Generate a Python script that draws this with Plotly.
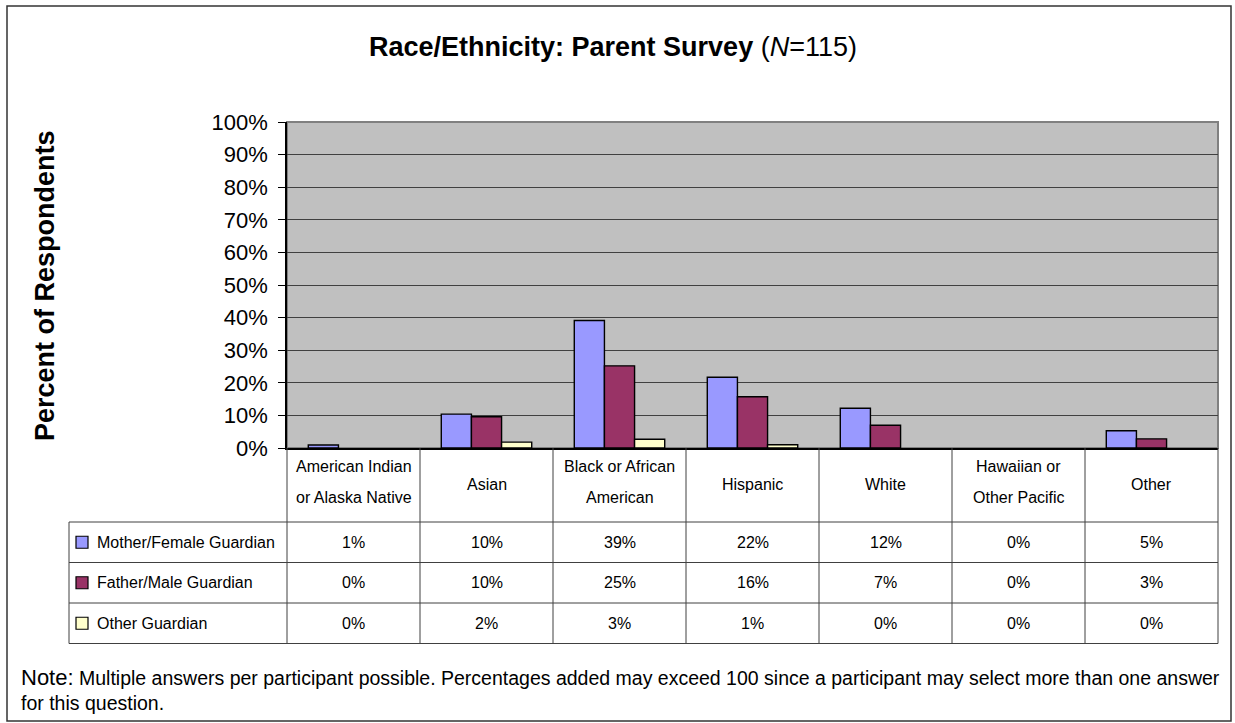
import plotly.graph_objects as go

# ---------------- data ----------------
categories = ["American Indian or Alaska Native", "Asian", "Black or African American",
              "Hispanic", "White", "Hawaiian or Other Pacific", "Other"]
category_lines = [["American Indian", "or Alaska Native"], ["Asian"],
                  ["Black or African", "American"], ["Hispanic"], ["White"],
                  ["Hawaiian or", "Other Pacific"], ["Other"]]
series_names = ["Mother/Female Guardian", "Father/Male Guardian", "Other Guardian"]
mother = [0.9, 10.4, 39.1, 21.7, 12.2, 0.0, 5.3]
father = [0.0, 9.6, 25.2, 15.7, 7.0, 0.0, 2.8]
other = [0.0, 1.8, 2.7, 1.0, 0.0, 0.0, 0.0]
series_values = [mother, father, other]
series_colors = ["#9999FF", "#993366", "#FFFFCC"]
y_ticks = list(range(0, 101, 10))
y_tick_labels = [f"{t}%" for t in y_ticks]

title_html = "<b>Race/Ethnicity: Parent Survey</b> (<i>N</i>=115)"
y_title = "Percent of Respondents"
note_lines = ["<span style='font-size:22px'>Note:</span> Multiple answers per participant possible. "
              "Percentages added may exceed 100 since a participant may select more than one answer",
              "for this question."]

# ---------------- layout geometry (pixels) ----------------
W, H = 1235, 723
PL, PR, PT, PB = 287, 1218, 122, 448      # plot area
TL = 69                                    # table left edge
HDR_B = 522                                # bottom of header row
ROW_H = 40.5
FONT = "Liberation Sans, Arial, sans-serif"


def px(x):
    return x / W


def py(y):
    return 1 - y / H


fig = go.Figure()
for name, vals, col in zip(series_names, series_values, series_colors):
    fig.add_trace(go.Bar(x=categories, y=vals, name=name,
                         marker=dict(color=col,
                                     line=dict(color="black",
                                               width=[1.4 if v > 0 else 0 for v in vals]))))

shapes = []
annotations = []

# plot border (gray)
shapes.append(dict(type="rect", xref="paper", yref="paper", x0=px(PL), x1=px(PR),
                   y0=py(PB), y1=py(PT), line=dict(color="#808080", width=2), layer="below"))

# outer border
shapes.append(dict(type="rect", xref="paper", yref="paper", x0=px(7), x1=px(1231),
                   y0=py(721), y1=py(6), line=dict(color="#333333", width=1.5)))

n = len(categories)
cw = (PR - PL) / n
line_style = dict(color="#404040", width=1)
rows_bottom = HDR_B + ROW_H * len(series_names)

# vertical lines of table
for i in range(n + 1):
    x = PL + i * cw
    shapes.append(dict(type="line", xref="paper", yref="paper", x0=px(x), x1=px(x),
                       y0=py(PB), y1=py(rows_bottom), line=line_style))
shapes.append(dict(type="line", xref="paper", yref="paper", x0=px(TL), x1=px(TL),
                   y0=py(HDR_B), y1=py(rows_bottom), line=line_style))
# horizontal lines of table
for r in range(len(series_names) + 1):
    y = HDR_B + r * ROW_H
    shapes.append(dict(type="line", xref="paper", yref="paper", x0=px(TL), x1=px(PR),
                       y0=py(y), y1=py(y), line=line_style))

# header category labels
for i, lines in enumerate(category_lines):
    cx = PL + (i + 0.5) * cw
    if len(lines) == 1:
        ys = [(PB + HDR_B) / 2]
    else:
        ys = [466, 497]
    for txt, yy in zip(lines, ys):
        annotations.append(dict(text=txt, x=px(cx), y=py(yy), xref="paper", yref="paper",
                                showarrow=False, xanchor="center", yanchor="middle",
                                font=dict(family=FONT, size=16, color="black")))

# rows: legend key, name, values
for r, (name, vals, col) in enumerate(zip(series_names, series_values, series_colors)):
    cy = HDR_B + (r + 0.5) * ROW_H
    shapes.append(dict(type="rect", xref="paper", yref="paper", x0=px(76), x1=px(88),
                       y0=py(cy + 6), y1=py(cy - 6), fillcolor=col,
                       line=dict(color="black", width=1.2)))
    annotations.append(dict(text=name, x=px(95), y=py(cy), xref="paper", yref="paper",
                            showarrow=False, xanchor="left", yanchor="middle",
                            font=dict(family=FONT, size=16, color="black")))
    for i, v in enumerate(vals):
        cx = PL + (i + 0.5) * cw
        annotations.append(dict(text=f"{v:.0f}%", x=px(cx), y=py(cy), xref="paper", yref="paper",
                                showarrow=False, xanchor="center", yanchor="middle",
                                font=dict(family=FONT, size=16, color="black")))

# title
annotations.append(dict(text=title_html, x=px(613), y=py(47), xref="paper", yref="paper",
                        showarrow=False, xanchor="center", yanchor="middle",
                        font=dict(family=FONT, size=27, color="black")))
# y axis title
annotations.append(dict(text=f"<b>{y_title}</b>", x=px(45), y=py(286), xref="paper", yref="paper",
                        showarrow=False, xanchor="center", yanchor="middle", textangle=-90,
                        font=dict(family=FONT, size=27, color="black")))
# note
for txt, yy in zip(note_lines, [677, 703]):
    annotations.append(dict(text=txt, x=px(19), y=py(yy), xref="paper", yref="paper",
                            showarrow=False, xanchor="left", yanchor="middle",
                            font=dict(family=FONT, size=19.5, color="black")))

fig.update_layout(
    width=W, height=H, autosize=False,
    margin=dict(l=0, r=0, t=0, b=0, pad=0),
    paper_bgcolor="white", plot_bgcolor="#C0C0C0",
    showlegend=False,
    barmode="group", bargap=0.32, bargroupgap=0,
    xaxis=dict(domain=[px(PL), px(PR)], showticklabels=False, ticks="",
               showgrid=False, showline=True, linecolor="black", linewidth=1.5,
               zeroline=False, automargin=False),
    yaxis=dict(domain=[py(PB), py(PT)], range=[0, 100], tickvals=y_ticks,
               ticktext=y_tick_labels, ticks="outside", ticklen=7, tickcolor="black",
               ticklabelstandoff=6, automargin=False,
               showline=True, linecolor="black", linewidth=1.5,
               showgrid=True, gridcolor="#404040", gridwidth=1, zeroline=False,
               tickfont=dict(family=FONT, size=22, color="black")),
    shapes=shapes, annotations=annotations,
    font=dict(family=FONT, color="black"),
)

fig.write_html("out.html", config={"displayModeBar": False},
               post_script="document.body.style.margin='0';")
